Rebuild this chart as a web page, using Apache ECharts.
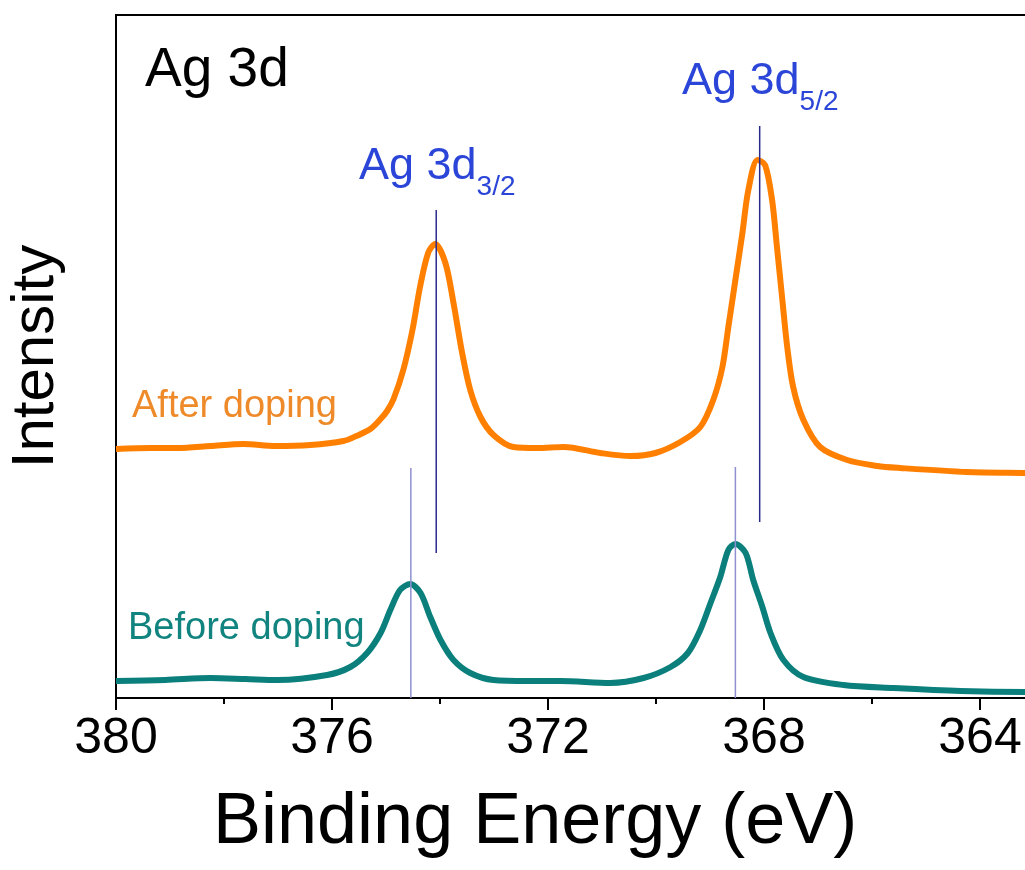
<!DOCTYPE html>
<html>
<head>
<meta charset="utf-8">
<script src="https://cdn.jsdelivr.net/npm/echarts@6/dist/echarts.min.js"></script>
<style>
html, body { margin: 0; padding: 0; background: #fff; }
#chart { width: 1025px; height: 870px; }
</style>
</head>
<body>
<div id="chart"></div>
<script>
// XPS Ag 3d spectra, binding energy (eV) vs intensity (a.u.)
const energyAfter = [380.0, 379.36, 378.86, 378.25, 377.64, 377.05, 376.40, 375.79, 375.55, 375.29,
    375.10, 374.98, 374.86, 374.68, 374.51, 374.37, 374.22, 374.09, 373.90, 373.75,
    373.59, 373.44, 373.25, 373.01, 372.64, 372.20, 371.71, 371.03, 370.47, 370.01,
    369.55, 369.18, 368.94, 368.77, 368.66, 368.53, 368.40, 368.29, 368.12, 367.98,
    367.85, 367.76, 367.66, 367.57, 367.46, 367.27, 366.96, 366.46, 365.90, 365.48,
    364.24, 363.16, 362.0];
const intensityAfter = [249, 250, 250, 252, 254, 252, 253, 257, 262, 269,
    279, 287, 299, 328, 368, 411, 445, 454, 435, 395,
    345, 308, 281, 263, 251, 250, 251, 245, 242, 245,
    256, 271, 298, 331, 371, 418, 465, 508, 538, 533,
    498, 451, 398, 351, 311, 278, 251, 238, 232, 230,
    226, 225, 224];

const energyBefore = [380.0, 379.09, 378.25, 377.6, 377.01, 376.09, 375.66, 375.35, 375.10, 374.92,
    374.74, 374.55, 374.36, 374.18, 373.99, 373.75, 373.44, 373.01, 372.38, 371.77,
    370.85, 370.23, 369.73, 369.41, 369.18, 368.99, 368.81, 368.66, 368.53, 368.34,
    368.20, 368.03, 367.88, 367.64, 367.27, 366.53, 365.60, 364.36, 363.16, 362.0];
const intensityBefore = [17, 18, 20, 19, 18, 23, 31, 45, 65, 88,
    108, 114, 105, 81, 58, 38, 25, 18, 17, 17,
    15, 20, 31, 45, 68, 95, 121, 148, 154, 145,
    118, 91, 65, 38, 21, 13, 10, 7, 6, 6];

// peak position markers: energy, lower and upper intensity of each marker
const markAfterEnergy = [374.07, 368.08];
const markAfterLow = [145, 176];
const markAfterHigh = [488, 572];
const markBeforeEnergy = [374.54, 368.53];
const markBeforeLow = [0, 0];
const markBeforeHigh = [230, 231];

const FONT = 'Liberation Sans, Arial, sans-serif';

function pairs(xs, ys) {
    return xs.map((x, i) => [x, ys[i]]);
}

const myChart = echarts.init(document.getElementById('chart'));

const markerSeries = [];
markAfterEnergy.forEach((e, i) => {
    markerSeries.push({
        type: 'line', symbol: 'none', silent: true, z: 5,
        data: [[e, markAfterLow[i]], [e, markAfterHigh[i]]],
        lineStyle: {color: '#2a2a8c', width: 1.5}
    });
});
markBeforeEnergy.forEach((e, i) => {
    markerSeries.push({
        type: 'line', symbol: 'none', silent: true, z: 5,
        data: [[e, markBeforeLow[i]], [e, markBeforeHigh[i]]],
        lineStyle: {color: '#8f8fd2', width: 1.5}
    });
});

const peakLabel = (text, sub, left, top) => ({
    type: 'text', left: left, top: top,
    style: {
        text: '{m|' + text + '}{s|' + sub + '}',
        rich: {
            m: {fontFamily: FONT, fontSize: 45, lineHeight: 70, fill: '#2a45d8', verticalAlign: 'middle'},
            s: {fontFamily: FONT, fontSize: 28, lineHeight: 32, fill: '#2a45d8', verticalAlign: 'bottom'}
        }
    }
});

const option = {
    animation: false,
    backgroundColor: '#fff',
    grid: {
        left: 116, top: 15, width: 1080, bottom: 172,
        containLabel: false, outerBoundsMode: 'none',
        show: true, borderColor: '#000', borderWidth: 2, backgroundColor: 'transparent'
    },
    xAxis: {
        type: 'value', inverse: true,
        min: 360, max: 380, interval: 4,
        axisLine: {show: true, lineStyle: {color: '#000', width: 2}},
        axisTick: {show: true, inside: false, length: 12, lineStyle: {color: '#000', width: 2}},
        minorTick: {show: true, splitNumber: 2, length: 6, lineStyle: {color: '#000', width: 2}},
        splitLine: {show: false},
        axisLabel: {fontFamily: FONT, fontSize: 50, color: '#000', margin: 16}
    },
    yAxis: {
        type: 'value', min: 0, max: 683,
        name: 'Intensity', nameLocation: 'middle', nameGap: 50, nameRotate: 90,
        nameTextStyle: {fontFamily: FONT, fontSize: 60, color: '#000'},
        axisLine: {show: true, lineStyle: {color: '#000', width: 2}},
        axisTick: {show: false},
        axisLabel: {show: false},
        splitLine: {show: false}
    },
    graphic: [
        {type: 'text', left: 145, top: 70.75 - 27.5,
            style: {text: 'Ag 3d', fontFamily: FONT, fontSize: 55, fill: '#000'}},
        peakLabel('Ag 3d', '3/2', 359, 144),
        peakLabel('Ag 3d', '5/2', 682, 59),
        {type: 'text', left: 132, top: 406.7 - 19,
            style: {text: 'After doping', fontFamily: FONT, fontSize: 38, fill: '#ee8a2a'}},
        {type: 'text', left: 128, top: 628.7 - 19,
            style: {text: 'Before doping', fontFamily: FONT, fontSize: 38, fill: '#12847f'}},
        {type: 'text', left: 213, top: 823 - 36,
            style: {text: 'Binding Energy (eV)', fontFamily: FONT, fontSize: 72, fill: '#000'}}
    ],
    series: [
        {
            name: 'After doping', type: 'line', symbol: 'none', smooth: 0.3, z: 3,
            data: pairs(energyAfter, intensityAfter),
            lineStyle: {color: '#ff8000', width: 6}
        },
        {
            name: 'Before doping', type: 'line', symbol: 'none', smooth: 0.3, z: 3,
            data: pairs(energyBefore, intensityBefore),
            lineStyle: {color: '#0a7f7b', width: 6}
        }
    ].concat(markerSeries)
};

myChart.setOption(option);
</script>
</body>
</html>
